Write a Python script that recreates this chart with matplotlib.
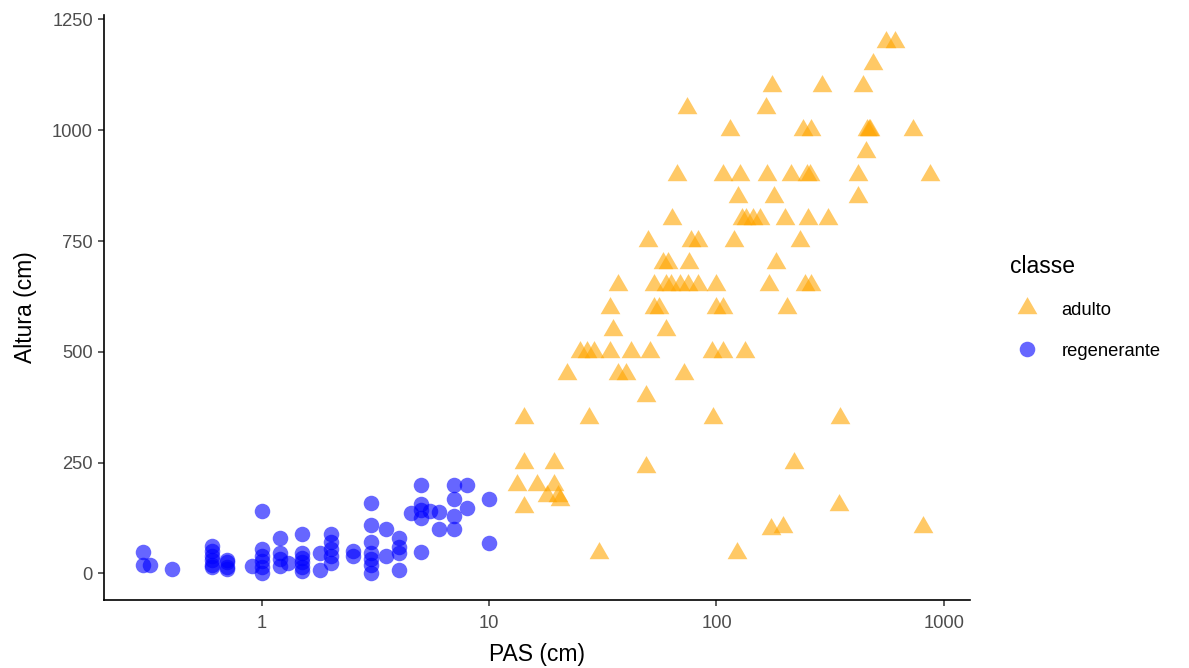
import numpy as np
import matplotlib
matplotlib.use("Agg")
import matplotlib.pyplot as plt
from matplotlib.lines import Line2D
from matplotlib.path import Path

plt.rcParams['font.family'] = ['Liberation Sans', 'DejaVu Sans']

# regenerante (blue circles): PAS (cm), Altura (cm)
reg_pas = [0.3, 0.3, 0.32, 0.4,
           0.6, 0.6, 0.6, 0.6, 0.6, 0.6,
           0.7, 0.7, 0.7, 0.7, 0.9,
           1.0, 1.0, 1.0, 1.0, 1.0, 1.0,
           1.2, 1.2, 1.2, 1.2, 1.3,
           1.5, 1.5, 1.5, 1.5, 1.5, 1.5,
           1.8, 1.8,
           2.0, 2.0, 2.0, 2.0, 2.0,
           2.5, 2.5,
           3.0, 3.0, 3.0, 3.0, 3.0, 3.0, 3.0,
           3.5, 3.5, 4.0, 4.0, 4.0, 4.0,
           4.5, 5.0, 5.0, 5.0, 5.0, 5.0, 5.5,
           6.0, 6.0, 7.0, 7.0, 7.0, 7.0,
           8.0, 8.0, 10.0, 10.0]
reg_alt = [48, 20, 20, 11,
           62, 50, 40, 30, 20, 15,
           30, 25, 15, 10, 17,
           140, 54, 40, 28, 15, 0,
           80, 47, 32, 17, 24,
           88, 45, 35, 25, 15, 5,
           47, 8,
           88, 70, 54, 39, 24,
           50, 39,
           160, 110, 70, 47, 32, 18, 0,
           100, 39, 80, 60, 47, 7,
           137, 200, 156, 144, 126, 48, 140,
           138, 100, 200, 168, 129, 100,
           200, 148, 168, 68]

# adulto (orange triangles): PAS (cm), Altura (cm)
adu_pas = [560, 610, 490,
           175, 290, 440,
           74, 165,
           115, 240, 260, 460, 470, 475, 730,
           455,
           67, 107, 127, 167, 212, 250, 258, 420, 870,
           125, 180, 420,
           64, 130, 135, 145, 155, 200, 253, 310,
           50, 77, 83, 119, 232,
           58, 61, 76, 183,
           37, 53, 60, 63, 69, 75, 83, 100, 170, 245, 260,
           34, 53, 56, 100, 107, 205,
           35, 60,
           25, 27, 29, 34, 42, 51, 96, 107, 133,
           22, 37, 40, 72,
           49,
           14.2, 27.4, 97, 350,
           14.2, 19.3, 220,
           49,
           13.2, 16.2, 19.3,
           18, 20, 20.5,
           14.2, 345,
           174, 196, 811,
           30.5, 123]
adu_alt = [1200, 1200, 1150,
           1100, 1100, 1100,
           1050, 1050,
           1000, 1000, 1000, 1000, 1000, 1000, 1000,
           950,
           900, 900, 900, 900, 900, 900, 900, 900, 900,
           850, 850, 850,
           800, 800, 800, 800, 800, 800, 800, 800,
           750, 750, 750, 750, 750,
           700, 700, 700, 700,
           650, 650, 650, 650, 650, 650, 650, 650, 650, 650, 650,
           600, 600, 600, 600, 600, 600,
           550, 550,
           500, 500, 500, 500, 500, 500, 500, 500, 500,
           450, 450, 450, 450,
           400,
           350, 350, 350, 350,
           250, 250, 250,
           240,
           200, 200, 200,
           175, 175, 165,
           150, 155,
           100, 105, 105,
           45, 45]

# R-style filled triangle (pch 17): point sits at the centroid
tri = Path([(0, 1.555), (1.347, -0.778), (-1.347, -0.778), (0, 1.555)],
           [Path.MOVETO, Path.LINETO, Path.LINETO, Path.CLOSEPOLY])

orange = '#FFA500'
blue = '#0000FF'

fig = plt.figure(figsize=(11.89, 6.68), dpi=100)
ax = fig.add_axes([104 / 1189, 1 - 600 / 668, (970 - 104) / 1189, (600 - 15) / 668])

ax.scatter(adu_pas, adu_alt, marker=tri, s=270, color=orange, alpha=0.6, linewidths=0)
ax.scatter(reg_pas, reg_alt, marker='o', s=125, color=blue, alpha=0.6, linewidths=0)

ax.set_xscale('log')
ax.set_xlim(10 ** -0.696, 10 ** 3.116)
ax.set_ylim(-60, 1260)
ax.set_xticks([1, 10, 100, 1000])
ax.set_xticklabels(['1', '10', '100', '1000'])
ax.xaxis.set_minor_locator(matplotlib.ticker.NullLocator())
ax.set_yticks([0, 250, 500, 750, 1000, 1250])

for side in ['top', 'right']:
    ax.spines[side].set_visible(False)
for side in ['left', 'bottom']:
    ax.spines[side].set_linewidth(1.2)
    ax.spines[side].set_color('black')
ax.tick_params(axis='both', length=4, width=1.1, color='#333333',
               labelsize=13.2, labelcolor='#4D4D4D', pad=4)
ax.tick_params(axis='x', pad=6.5)

ax.set_xlabel('PAS (cm)', fontsize=16.5, color='black', labelpad=8)
ax.set_ylabel('Altura (cm)', fontsize=16.5, color='black', labelpad=10.5)

handles = [
    Line2D([], [], marker=tri, linestyle='none', markersize=16.4,
           markerfacecolor=orange, markeredgewidth=0, alpha=0.6, label='adulto'),
    Line2D([], [], marker='o', linestyle='none', markersize=11.2,
           markerfacecolor=blue, markeredgewidth=0, alpha=0.6, label='regenerante'),
]
leg = fig.legend(handles=handles, title='classe', loc='upper left',
                 bbox_to_anchor=(1010 / 1189, 1 - 255 / 668), frameon=False,
                 fontsize=13.2, title_fontsize=16.5, alignment='left',
                 borderpad=0, borderaxespad=0,
                 handletextpad=1.0, labelspacing=1.3, handlelength=1.8)

fig.savefig('out.png', dpi=100)
